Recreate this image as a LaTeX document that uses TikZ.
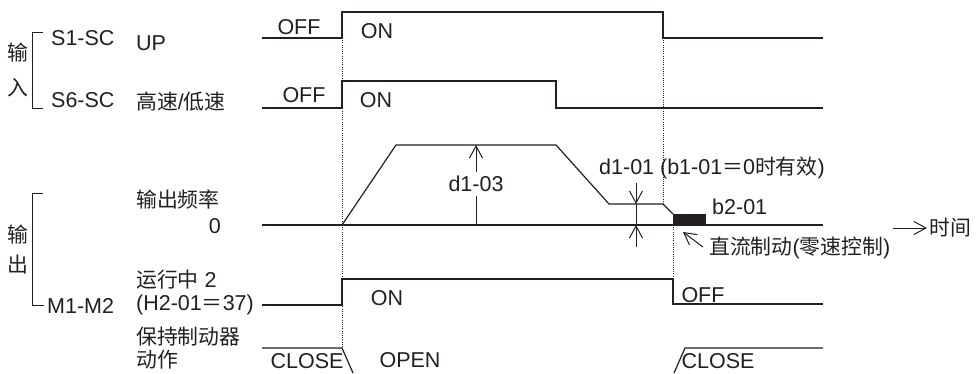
\documentclass[tikz,border=0pt]{standalone}
\usepackage{fontspec}
\setmainfont{Liberation Sans}
\newfontfamily\cjk[Scale=0.97]{Noto Sans CJK SC}
\usetikzlibrary{arrows.meta}
\definecolor{ink}{HTML}{231F20}
\begin{document}
\begin{tikzpicture}[x=1pt,y=-1pt,
  txt/.style={inner sep=0pt,text=ink,font=\fontsize{21.5}{25}\selectfont},
  wave/.style={draw=ink,line width=1.2pt,line join=miter},
  guide/.style={draw=ink,line width=0.7pt,dash pattern=on 1pt off 1.2pt},
  dim/.style={draw=ink,line width=1pt},
  barb/.style={-{Straight Barb[length=12pt,width=13pt,line width=1pt]}}
]
\useasboundingbox (0,0) rectangle (978,373);
\fill[white] (0,0) rectangle (978,373);

% left labels
\node[txt] (in1) at (18,53) {\cjk 输};
\node[txt] (in2) at (18,88) {\cjk 入};
\node[txt] (out1) at (18,235) {\cjk 输};
\node[txt] (out2) at (18,265) {\cjk 出};
\node[txt,anchor=west] (s1) at (51,38) {S1-SC};
\node[txt,anchor=west] (up) at (136,43) {UP};
\node[txt,anchor=west] (s6) at (51,100) {S6-SC};
\node[txt,anchor=west] (hl) at (136,102) {{\cjk 高速}/{\cjk 低速}};
\node[txt,anchor=west] (fq) at (136,200) {\cjk 输出频率};
\node[txt,anchor=east] (zero) at (221,226) {0};
\node[txt,anchor=west] (run) at (136,280) {{\cjk 运行中} 2};
\node[txt,anchor=west] (h2) at (136,305) {(H2-01{\cjk ＝}37)};
\node[txt,anchor=west] (m1) at (47,306) {M1-M2};
\node[txt,anchor=west] (bk1) at (136,337) {\cjk 保持制动器};
\node[txt,anchor=west] (bk2) at (136,360) {\cjk 动作};

% brackets
\draw[dim] (43,32) -- (32,32) -- (32,108) -- (43,108);
\draw[dim] (43,193) -- (32,193) -- (32,305) -- (44,305);

% waveforms
\draw[wave] (262,38) -- (342,38) -- (342,12) -- (663,12) -- (663,38) -- (823,38);
\draw[wave] (262,108) -- (342,108) -- (342,81) -- (556,81) -- (556,108) -- (823,108);
\draw[wave] (262,225) -- (823,225);
\draw[wave] (342,225) -- (396,145) -- (556,145) -- (609,204) -- (663,204) -- (673,214);
\fill[ink] (673,214) rectangle (706,225);
\draw[wave] (262,305) -- (342,305) -- (342,279) -- (673,279) -- (673,304) -- (823,304);
\draw[wave] (262,348) -- (342,348) -- (353,373);
\draw[wave] (674,373) -- (685,348) -- (823,348);

% guides
\draw[guide] (342,38) -- (342,348);
\draw[guide] (663,38) -- (663,204);
\draw[guide] (673,225) -- (673,279);

% signal labels
\node[txt] (off1) at (299,27) {OFF};
\node[txt] (on1) at (377,31) {ON};
\node[txt] (off2) at (304,95) {OFF};
\node[txt] (on2) at (376,100) {ON};
\node[txt,inner sep=4pt] (d103) at (476,184) {d1-03};
\node[txt] (on3) at (387,298) {ON};
\node[txt] (offr) at (703,295) {OFF};
\node[txt] (open) at (410,360) {OPEN};
\node[txt] (closeL) at (307,361) {CLOSE};
\node[txt] (closeR) at (718,361) {CLOSE};
\node[txt,anchor=west] (d101) at (599,168) {d1-01 (b1-01{\cjk ＝}0{\cjk 时有效})};
\node[txt,anchor=west] (b201) at (712,207) {b2-01};
\node[txt,anchor=west] (dcb) at (709,248) {{\cjk 直流制动}({\cjk 零速控制})};
\node[txt,anchor=west] (time) at (929,228) {\cjk 时间};

% dimension arrows
\coordinate (fmax) at (476,145);
\coordinate (fzero) at (476,225);
\draw[dim,barb] (d103.north) -- (fmax);
\draw[dim] (d103.south) -- (fzero);

\coordinate (da) at (636,183);
\coordinate (db) at (636,204);
\coordinate (dc) at (636,225);
\coordinate (dd) at (636,247);
\draw[dim,barb] (da) -- (db);
\draw[dim] (db) -- (dc);
\draw[dim,barb] (dd) -- (dc);

\coordinate (tstart) at (893,228);
\draw[dim,barb,shorten >=2pt] (tstart) -- (time.west);

\coordinate (dcbtail) at (703,247);
\coordinate (dcbhead) at (683,232);
\draw[dim,barb] (dcbtail) -- (dcbhead);
\end{tikzpicture}
\end{document}
